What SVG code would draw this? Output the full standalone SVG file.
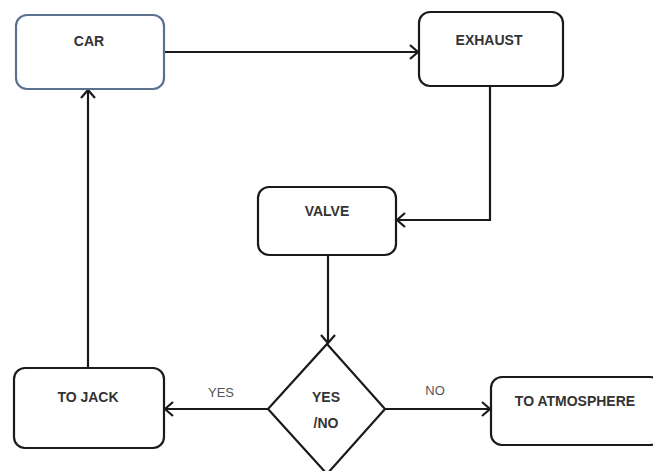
<svg xmlns="http://www.w3.org/2000/svg" width="653" height="471" viewBox="0 0 653 471">
<style>
.box{fill:#fff;stroke:#1a1a1a;stroke-width:2.2}
.lbl{font-family:"Liberation Sans",Arial,sans-serif;font-weight:bold;font-size:14px;fill:#333;text-anchor:middle}
.edge{font-family:"Liberation Sans",Arial,sans-serif;font-size:13px;fill:#555;text-anchor:middle}
.conn{fill:none;stroke:#1a1a1a;stroke-width:2.2}
</style>
<defs>
<marker id="arr" markerUnits="userSpaceOnUse" markerWidth="20" markerHeight="20" viewBox="-12 -10 14 20" refX="0" refY="0" orient="auto">
<path d="M-8,-7 L0,0 L-8,7" fill="none" stroke="#1a1a1a" stroke-width="2.2"/>
</marker>
</defs>
<rect width="653" height="471" fill="#fff"/>
<g id="connectors">
<path class="conn" d="M165 52 H418" marker-end="url(#arr)"/>
<path class="conn" d="M490 86 V220 H397" marker-end="url(#arr)"/>
<path class="conn" d="M328 255 V343" marker-end="url(#arr)"/>
<path class="conn" d="M268 409 H165" marker-end="url(#arr)"/>
<path class="conn" d="M385 409 H490" marker-end="url(#arr)"/>
<path class="conn" d="M88 367 V90" marker-end="url(#arr)"/>
<text class="edge" x="221" y="397">YES</text>
<text class="edge" x="435" y="395">NO</text>
</g>
<g id="car">
<rect class="box" x="16" y="15" width="148" height="74" rx="11" style="stroke:#5b7190"/>
<text class="lbl" x="89" y="46">CAR</text>
</g>
<g id="exhaust">
<rect class="box" x="419" y="12" width="144" height="74" rx="11"/>
<text class="lbl" x="489" y="45">EXHAUST</text>
</g>
<g id="valve">
<rect class="box" x="258" y="187" width="138" height="68" rx="11"/>
<text class="lbl" x="327" y="216">VALVE</text>
</g>
<g id="decision">
<polygon class="box" points="327,344 385,409 327,474 268,409"/>
<text class="lbl" x="326" y="402">YES</text>
<text class="lbl" x="326" y="428">/NO</text>
</g>
<g id="tojack">
<rect class="box" x="14" y="368" width="150" height="80" rx="11"/>
<text class="lbl" x="88" y="402">TO JACK</text>
</g>
<g id="toatmosphere">
<rect class="box" x="491" y="377" width="170" height="68" rx="11"/>
<text class="lbl" x="575" y="406">TO ATMOSPHERE</text>
</g>
</svg>
